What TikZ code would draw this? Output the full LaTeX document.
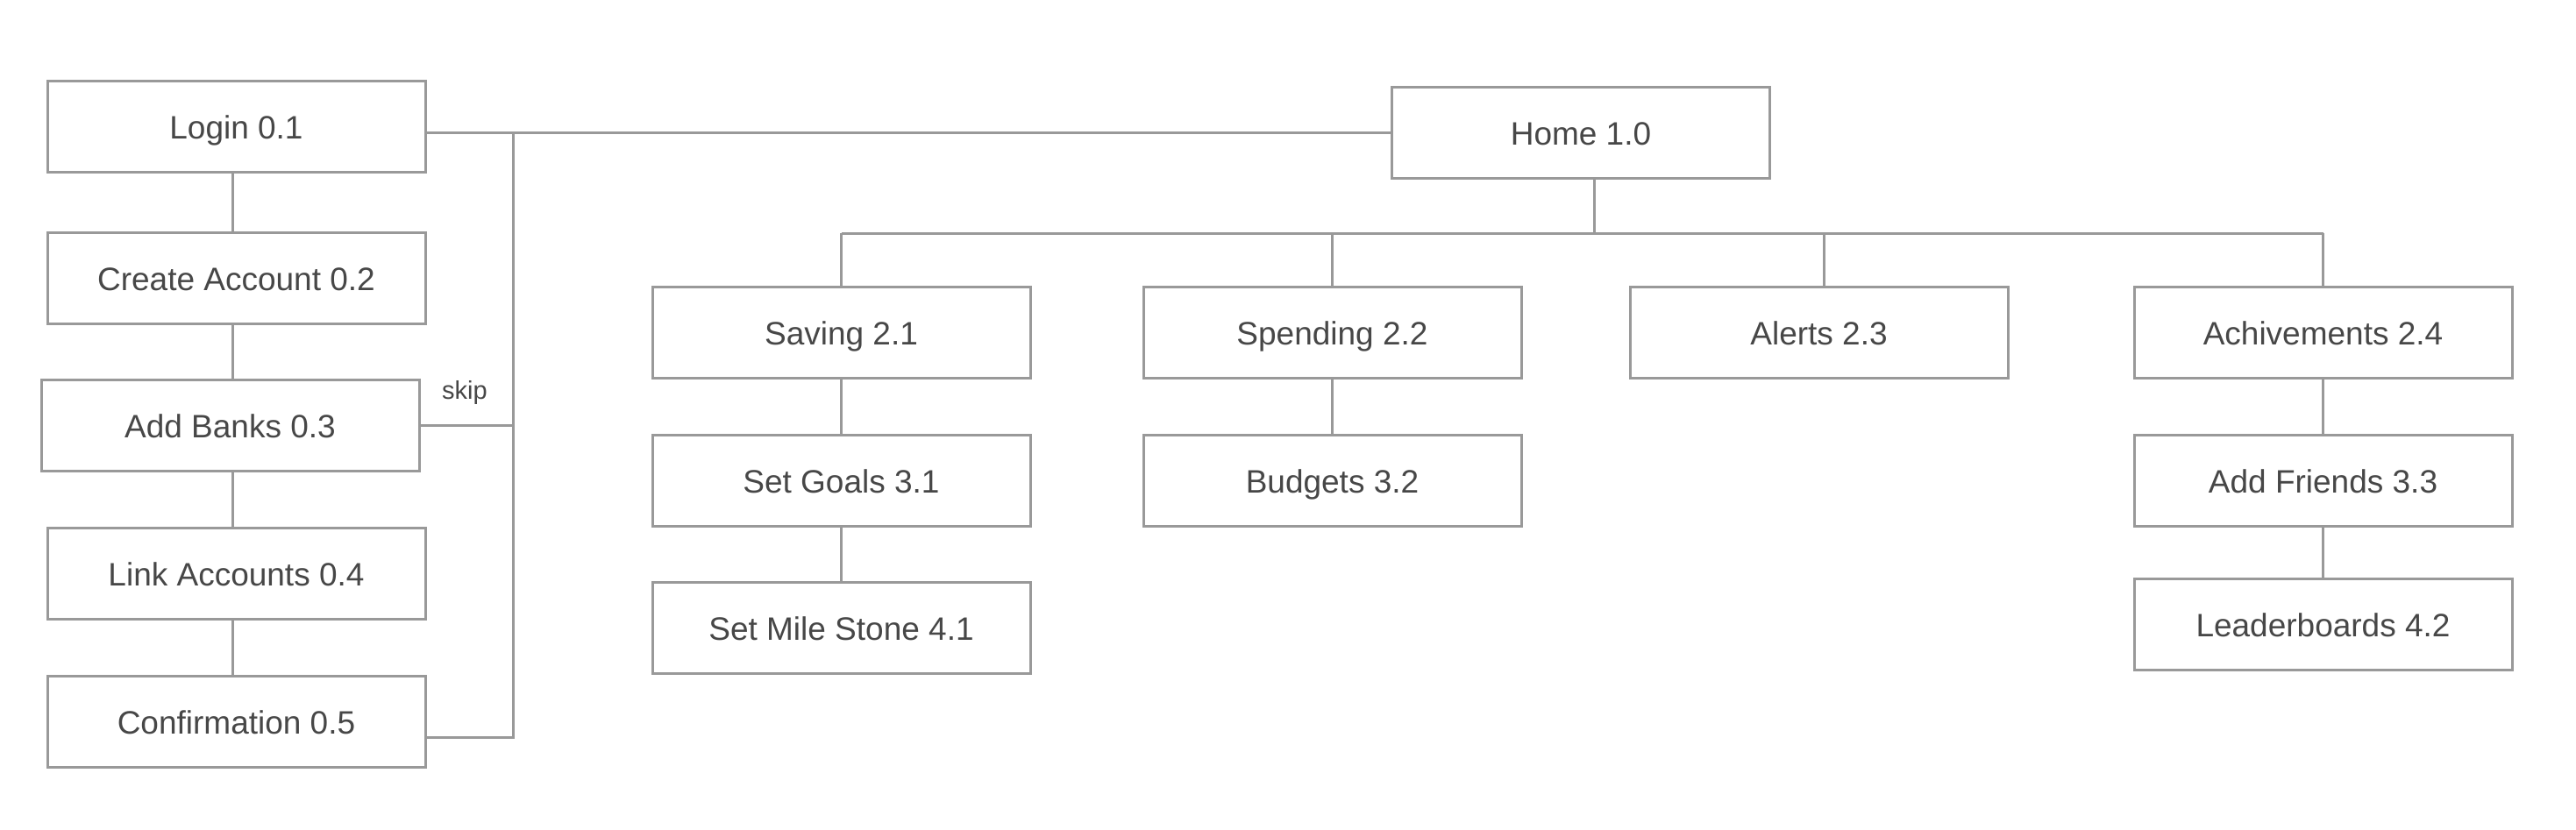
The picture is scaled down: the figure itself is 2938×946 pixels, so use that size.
\documentclass[tikz,border=0pt]{standalone}
\usepackage{fontspec}
\setmainfont{Liberation Sans}
\definecolor{linec}{HTML}{999999}
\definecolor{textc}{HTML}{474747}
\begin{document}
\begin{tikzpicture}[x=1pt,y=-1pt,
  box/.style={draw=linec, line width=3pt, rectangle, inner sep=0pt,
    minimum width=431pt, minimum height=104pt, text=textc,
    text height=28pt, text depth=0pt,
    font=\fontsize{37}{44}\selectfont},
  conn/.style={draw=linec, line width=3pt},
  lbl/.style={text=textc, inner sep=0pt, font=\fontsize{29}{34}\selectfont}]
\fill[white] (0,0) rectangle (2938,946);
\useasboundingbox (0,0) rectangle (2938,946);
% left column
\node[box] (login)  at (269.5,144.5) {Login 0.1};
\node[box] (create) at (269.5,317)   {Create Account 0.2};
\node[box] (banks)  at (262.5,485.5) {Add Banks 0.3};
\node[box] (link)   at (269.5,654.5) {Link Accounts 0.4};
\node[box] (conf)   at (269.5,823.5) {Confirmation 0.5};
\node[lbl] (skip)   at (530,448) {skip};
% home and children
\node[box] (home)   at (1803,151.5) {Home 1.0};
\node[box] (saving) at (959.5,379.5) {Saving 2.1};
\node[box] (spend)  at (1519.5,379.5) {Spending 2.2};
\node[box] (alerts) at (2074.5,379.5) {Alerts 2.3};
\node[box] (achiev) at (2649.5,379.5) {Achivements 2.4};
\node[box] (goals)  at (959.5,548.5) {Set Goals 3.1};
\node[box] (mile)   at (959.5,716.5) {Set Mile Stone 4.1};
\node[box] (budget) at (1519.5,548.5) {Budgets 3.2};
\node[box] (friends) at (2649.5,548.5) {Add Friends 3.3};
\node[box] (leader) at (2649.5,712.5) {Leaderboards 4.2};
% coordinates
\coordinate (bustop) at (585,151.5);
\coordinate (busbot) at (585,841);
\coordinate (lcol) at (265,0);
\coordinate (hdrop) at (1818,266);
\coordinate (adrop) at (2080,266);
% left connectors
\draw[conn] (login.south -| lcol) -- (create.north -| lcol);
\draw[conn] (create.south -| lcol) -- (banks.north -| lcol);
\draw[conn] (banks.south -| lcol) -- (link.north -| lcol);
\draw[conn] (link.south -| lcol) -- (conf.north -| lcol);
\draw[conn] (login.east |- home.west) -- (home.west);
\draw[conn] (banks.east) -- (banks.east -| bustop);
\draw[conn] (conf.east |- busbot) -- (busbot) -- (bustop);
% home tree
\draw[conn] (home.south -| hdrop) -- (hdrop);
\draw[conn] (saving.north |- hdrop) -- (achiev.north |- hdrop);
\draw[conn] (saving.north |- hdrop) -- (saving.north);
\draw[conn] (spend.north |- hdrop) -- (spend.north);
\draw[conn] (adrop) -- (alerts.north -| adrop);
\draw[conn] (achiev.north |- hdrop) -- (achiev.north);
\draw[conn] (saving.south) -- (goals.north);
\draw[conn] (goals.south) -- (mile.north);
\draw[conn] (spend.south) -- (budget.north);
\draw[conn] (achiev.south) -- (friends.north);
\draw[conn] (friends.south) -- (leader.north);
\end{tikzpicture}
\end{document}
